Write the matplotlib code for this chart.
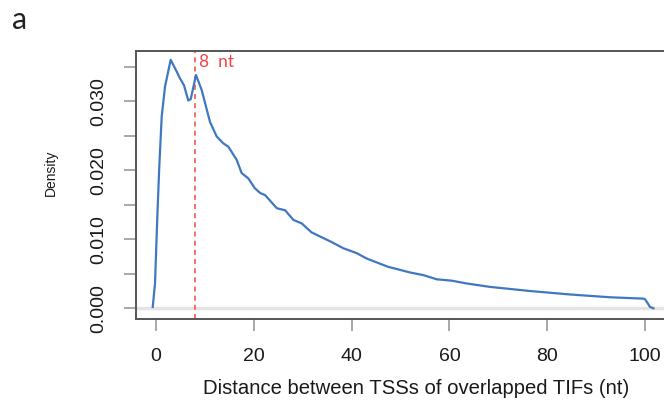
import matplotlib
matplotlib.use("Agg")
import matplotlib.pyplot as plt

# Density curve
dist = [-0.67, -0.2, 0.27, 0.67, 1.17, 1.84, 3.0, 4.23, 4.91, 5.73, 6.6, 7.1, 8.18, 9.35,
        11.04, 12.4, 13.76, 14.8, 16.5, 17.5, 18.9, 20.2, 21.3, 22.3, 24.7, 26.4, 28.1,
        29.8, 31.8, 35.9, 38.3, 41.0, 43.1, 47.5, 51.9, 54.7, 57.4, 60.5, 63.5, 68.3,
        73.8, 76.5, 84.7, 92.8, 99.6, 100.0, 101.0, 101.7]
density = [0.0002, 0.0036, 0.0133, 0.0205, 0.0278, 0.0321, 0.0360, 0.0343, 0.0333, 0.0323,
           0.0301, 0.0303, 0.0338, 0.0316, 0.0270, 0.0249, 0.0239, 0.0234, 0.0215, 0.0196,
           0.0188, 0.0174, 0.0167, 0.0164, 0.0145, 0.0142, 0.0128, 0.0123, 0.0110, 0.0096,
           0.0087, 0.0080, 0.0072, 0.0060, 0.0052, 0.0048, 0.0042, 0.0040, 0.0036, 0.0031,
           0.0027, 0.0025, 0.0020, 0.0016, 0.0014, 0.0013, 0.0002, 0.0000]
marker_x = 8
marker_label = "8  nt"
x_ticks = [0, 20, 40, 60, 80, 100]
y_ticks = [0.000, 0.005, 0.010, 0.015, 0.020, 0.025, 0.030, 0.035]
y_tick_labels = ["0.000", "", "0.010", "", "0.020", "", "0.030", ""]

W, H = 664, 420
fig = plt.figure(figsize=(W / 100, H / 100), dpi=100)
L, R, T, B = 135.7, 696, 50.7, 319
ax = fig.add_axes([L / W, 1 - B / H, (R - L) / W, (B - T) / H])

ax.axhline(0, color="#e4e4e4", lw=2.5, zorder=1)
ax.plot(dist, density, color="#3f78c0", lw=1.6, zorder=3)
ax.axvline(marker_x, color="#ee5a4a", lw=1.2, ls=(0, (3, 2.5)), zorder=2)
ax.text(marker_x + 0.7, 0.0350, marker_label, color="#ee4444", fontsize=12.5,
        family="Lato", ha="left", va="baseline")

ax.set_xlim(-4.15, 110.4)
ax.set_ylim(-0.00155, 0.03732)
ax.set_xticks(x_ticks)
ax.set_xticklabels([str(v) for v in x_ticks])
ax.set_yticks(y_ticks)
ax.set_yticklabels(y_tick_labels, rotation=90, va="center")

for s in ax.spines.values():
    s.set_color("#555555")
    s.set_linewidth(1.4)
ax.spines["right"].set_visible(False)

ax.tick_params(axis="both", length=8.6, width=1.2, color="#999999",
               labelsize=14, labelcolor="#1a1a1a", labelfontfamily="Liberation Sans")
ax.tick_params(axis="x", pad=12)
ax.tick_params(axis="y", pad=12)

fig.text(416 / W, 1 - 388 / H, "Distance between TSSs of overlapped TIFs (nt)",
         fontsize=14.6, family="Liberation Sans", color="#1a1a1a", ha="center", va="center")
fig.text(51 / W, 1 - 173 / H, "Density", rotation=90, fontsize=10,
         family="Liberation Sans", color="#1a1a1a", ha="center", va="center")
fig.text(20 / W, 1 - 20 / H, "a", fontsize=22, family="Lato", color="#222222",
         ha="center", va="center")

fig.savefig("out.png", dpi=100)
